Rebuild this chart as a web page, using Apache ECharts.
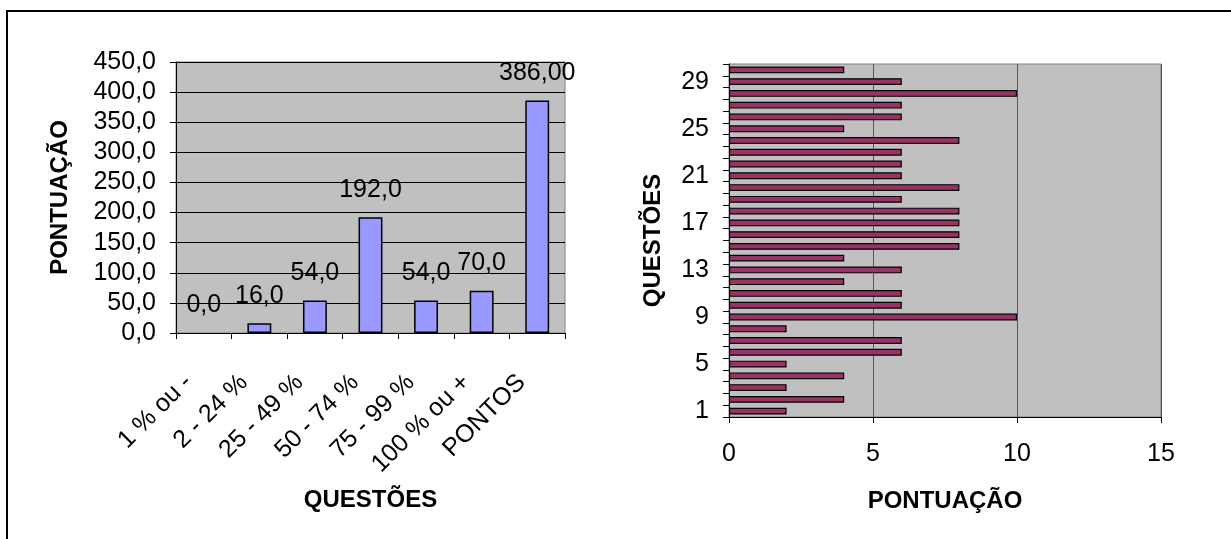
<!DOCTYPE html>
<html>
<head>
<meta charset="utf-8">
<script src="https://cdn.jsdelivr.net/npm/echarts@6/dist/echarts.min.js"></script>
<style>
html,body{margin:0;padding:0;background:#fff;}
#c{width:1231px;height:539px;}
</style>
</head>
<body>
<div id="c"></div>
<script>
// Left chart data
const leftCategories = ['1 % ou -', '2 - 24 %', '25 - 49 %', '50 - 74 %', '75 - 99 %', '100 % ou +', 'PONTOS'];
const leftValues = [0, 16, 54, 192, 54, 70, 386];
const leftLabels = ['0,0', '16,0', '54,0', '192,0', '54,0', '70,0', '386,00'];
const leftTicks = [0, 50, 100, 150, 200, 250, 300, 350, 400, 450];

// Right chart data (questions 1..30)
const rightCategories = ['1','2','3','4','5','6','7','8','9','10','11','12','13','14','15','16','17','18','19','20','21','22','23','24','25','26','27','28','29','30'];
const rightValues = [2,4,2,4,2,6,6,2,10,6,6,4,6,4,8,8,8,8,6,8,6,6,6,8,4,6,6,10,6,4];
const rightTicks = [0, 5, 10, 15];

const FONT = '"Liberation Sans", Arial, sans-serif';
const FS = 25;
const TFS = 24;

const chart = echarts.init(document.getElementById('c'), null, {renderer: 'canvas'});
chart.setOption({
  animation: false,
  backgroundColor: '#ffffff',
  textStyle: {fontFamily: FONT},
  graphic: [{
    type: 'rect',
    shape: {x: 7, y: 11, width: 1300, height: 600},
    style: {fill: 'none', stroke: '#000', lineWidth: 2}
  }],
  grid: [
    {left: 176, top: 62, width: 389, height: 271, show: true, backgroundColor: '#C0C0C0', borderColor: '#808080', borderWidth: 1},
    {left: 729, top: 64, width: 432, height: 353, show: true, backgroundColor: '#C0C0C0', borderColor: '#808080', borderWidth: 1}
  ],
  xAxis: [
    {
      type: 'category', gridIndex: 0, data: leftCategories,
      name: 'QUESTÕES', nameLocation: 'middle', nameGap: 155,
      nameTextStyle: {fontFamily: FONT, fontSize: TFS, fontWeight: 'bold', color: '#000'},
      axisLine: {lineStyle: {color: '#000', width: 1}},
      axisTick: {show: true, length: 6, lineStyle: {color: '#000'}},
      axisLabel: {rotate: 45, interval: 0, margin: 30, padding: [0, 22, 0, 0], fontFamily: FONT, fontSize: FS, color: '#000'},
      splitLine: {show: false}
    },
    {
      type: 'value', gridIndex: 1, min: 0, max: 15, interval: 5,
      name: 'PONTUAÇÃO', nameLocation: 'middle', nameGap: 72,
      nameTextStyle: {fontFamily: FONT, fontSize: TFS, fontWeight: 'bold', color: '#000'},
      axisLine: {show: true, lineStyle: {color: '#000', width: 1}},
      axisTick: {show: true, length: 6, lineStyle: {color: '#000'}},
      axisLabel: {margin: 25, fontFamily: FONT, fontSize: FS, color: '#000', formatter: v => String(v)},
      splitLine: {show: true, lineStyle: {color: '#555', width: 1}}
    }
  ],
  yAxis: [
    {
      type: 'value', gridIndex: 0, min: 0, max: 450, interval: 50,
      name: 'PONTUAÇÃO', nameLocation: 'middle', nameGap: 104,
      nameTextStyle: {fontFamily: FONT, fontSize: TFS, fontWeight: 'bold', color: '#000'},
      axisLine: {show: true, lineStyle: {color: '#000', width: 1}},
      axisTick: {show: true, length: 6, lineStyle: {color: '#000'}},
      axisLabel: {margin: 20, fontFamily: FONT, fontSize: FS, color: '#000', formatter: v => v.toFixed(1).replace('.', ',')},
      splitLine: {show: true, lineStyle: {color: '#000', width: 1}}
    },
    {
      type: 'category', gridIndex: 1, data: rightCategories,
      name: 'QUESTÕES', nameLocation: 'middle', nameGap: 64,
      nameTextStyle: {fontFamily: FONT, fontSize: TFS, fontWeight: 'bold', color: '#000'},
      axisLine: {lineStyle: {color: '#000', width: 1}},
      axisTick: {show: true, interval: 0, length: 6, lineStyle: {color: '#000'}},
      axisLabel: {interval: 3, margin: 20, fontFamily: FONT, fontSize: FS, color: '#000'},
      splitLine: {show: false}
    }
  ],
  series: [
    {
      type: 'bar', xAxisIndex: 0, yAxisIndex: 0,
      data: leftValues.map(v => (v === 0 ? {value: v, itemStyle: {borderWidth: 0}} : v)),
      barCategoryGap: '57%',
      itemStyle: {color: '#9999FF', borderColor: '#000', borderWidth: 1.5},
      label: {show: true, position: 'top', distance: 15, fontFamily: FONT, fontSize: FS, color: '#000',
        formatter: p => leftLabels[p.dataIndex]}
    },
    {
      type: 'bar', xAxisIndex: 1, yAxisIndex: 1, data: rightValues,
      barCategoryGap: '42%',
      itemStyle: {color: '#993366', borderColor: '#000', borderWidth: 1.2}
    }
  ]
});
</script>
</body>
</html>
